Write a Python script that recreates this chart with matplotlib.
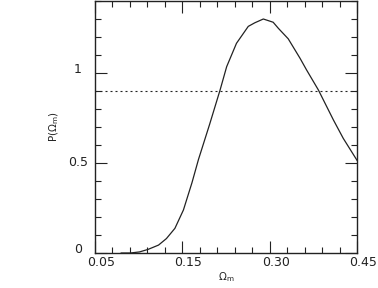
import matplotlib
matplotlib.use('Agg')
import matplotlib.pyplot as plt
import matplotlib.transforms as mtransforms
import numpy as np

# Data
omega_m = [0.09, 0.104, 0.118, 0.131, 0.147, 0.159, 0.172, 0.185, 0.198, 0.208,
           0.225, 0.241, 0.251, 0.266, 0.284, 0.294, 0.307, 0.322, 0.330, 0.345,
           0.363, 0.373, 0.391, 0.414, 0.429, 0.450]
prob = [0.0, 0.0, 0.006, 0.02, 0.044, 0.08, 0.137, 0.239, 0.39, 0.52,
        0.715, 0.906, 1.035, 1.165, 1.259, 1.279, 1.30, 1.282, 1.248, 1.19,
        1.082, 1.017, 0.906, 0.739, 0.637, 0.515]
level = 0.9

x_tick_labels = ['0.05', '0.15', '0.30', '0.45']
y_ticks = [0, 0.5, 1]
y_tick_labels = ['0', '0.5', '1']

ink = '#222222'
plt.rcParams['font.family'] = ['DejaVu Sans']
plt.rcParams['mathtext.default'] = 'regular'

fig = plt.figure(figsize=(3.78, 2.88), dpi=100)
ax = fig.add_axes([95 / 378, 35 / 288, 262 / 378, 252 / 288])

# Courbe
ax.plot(omega_m, prob, color=ink, lw=0.9)
ax.axhline(level, color=ink, lw=0.8, linestyle=(0, (1.8, 2.7)))

ax.set_xlim(0.05, 0.45)
ax.set_ylim(0, 1.4)

# Ticks
ax.set_xticks(np.linspace(0.05, 0.45, 4))
ax.set_xticklabels(x_tick_labels)
ax.set_xticks(np.linspace(0.05, 0.45, 16), minor=True)
ax.set_yticks(y_ticks)
ax.set_yticklabels(y_tick_labels)
ax.set_yticks(np.arange(0, 1.41, 0.1), minor=True)

ax.tick_params(which='both', direction='in', top=True, right=True,
               color=ink, width=0.8, labelsize=9, labelcolor=ink)
ax.tick_params(which='major', length=8.4)
ax.tick_params(which='minor', length=4.3)
ax.tick_params(axis='x', pad=2.2)
ax.tick_params(axis='y', pad=12.2)

for sp in ax.spines.values():
    sp.set_color(ink)
    sp.set_linewidth(1.0)

# Decalage des labels
off = mtransforms.ScaledTranslation(6 / 100, 0, fig.dpi_scale_trans)
for lab in ax.get_xticklabels():
    lab.set_transform(lab.get_transform() + off)
for lab in ax.get_yticklabels():
    lab.set_horizontalalignment('center')
    if lab.get_text() == '0.5':
        lab.set_verticalalignment('center')
    else:
        lab.set_verticalalignment('baseline')

ax.set_xlabel(r'$\Omega_m$', fontsize=7.5, color=ink, labelpad=1)
ax.set_ylabel(r'P$\left(\Omega_m\right)$', fontsize=7.5, color=ink, labelpad=5)

fig.savefig('out.png', dpi=100)
